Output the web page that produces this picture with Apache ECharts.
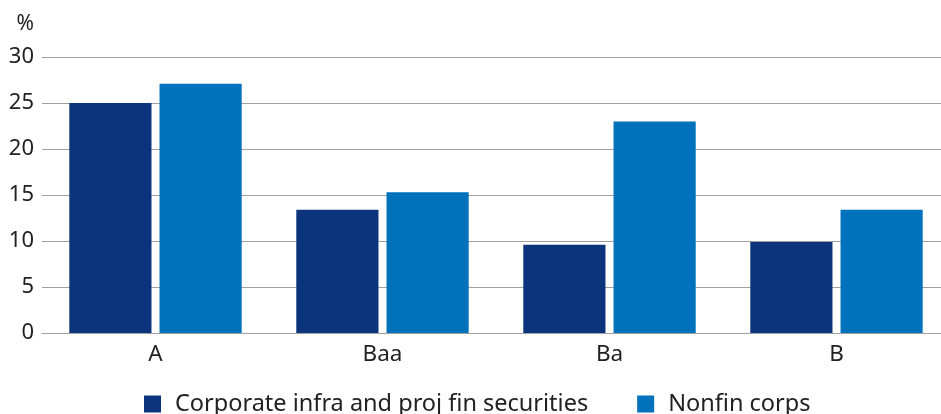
<!DOCTYPE html>
<html>
<head>
<meta charset="utf-8">
<script src="https://cdn.jsdelivr.net/npm/echarts@6/dist/echarts.min.js"></script>
<style>html,body{margin:0;padding:0;background:#fff;overflow:hidden}#c{width:950px;height:414px}</style>
</head>
<body>
<div id="c"></div>
<script>
const categories = ['A', 'Baa', 'Ba', 'B'];
const seriesNames = ['Corporate infra and proj fin securities', 'Nonfin corps'];
const corporateInfra = [25.0, 13.4, 9.6, 9.9];
const nonfinCorps = [27.1, 15.3, 23.0, 13.4];
const yTicks = [0, 5, 10, 15, 20, 25, 30];

const chart = echarts.init(document.getElementById('c'), null, {renderer: 'canvas'});
const font = '"Noto Sans", "Open Sans", sans-serif';
chart.setOption({
  animation: false,
  textStyle: {fontFamily: font},
  grid: {left: 42, right: 0, top: 57, bottom: 81},
  legend: {
    left: 144, top: 392, padding: 0,
    itemWidth: 17, itemHeight: 17, itemGap: 49,
    icon: 'rect',
    textStyle: {fontFamily: font, fontSize: 23.5, lineHeight: 17, color: '#222', padding: [0, 0, 0, 9]},
    data: seriesNames
  },
  xAxis: {
    type: 'category',
    data: categories,
    axisLine: {lineStyle: {color: '#a0a0a0', width: 1}},
    axisTick: {show: false},
    axisLabel: {fontFamily: font, fontSize: 22.5, color: '#222', margin: 10}
  },
  yAxis: {
    type: 'value',
    min: yTicks[0], max: yTicks[yTicks.length - 1], interval: 5,
    name: '%',
    nameLocation: 'end',
    nameGap: 22,
    nameTextStyle: {fontFamily: font, fontSize: 21, color: '#222', align: 'right', padding: [0, 8, 0, 0]},
    axisLine: {show: false},
    axisTick: {show: false},
    axisLabel: {fontFamily: font, fontSize: 22, color: '#222', margin: 8},
    splitLine: {lineStyle: {color: '#a0a0a0', width: 1}}
  },
  series: [
    {name: seriesNames[0], type: 'bar', data: corporateInfra, barWidth: '36.2%', barGap: '9.8%',
     itemStyle: {color: '#0b347c'}},
    {name: seriesNames[1], type: 'bar', data: nonfinCorps, barWidth: '36.2%',
     itemStyle: {color: '#0072bb'}}
  ]
});
</script>
</body>
</html>
